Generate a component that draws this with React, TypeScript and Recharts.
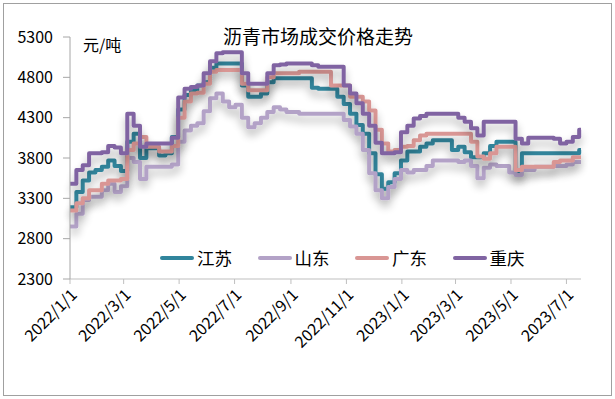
import React from "react";
import { LineChart, Line, XAxis, YAxis } from "recharts";

// weekly sample dates (price held until next date)
const dates = [
  "2022-01-01", "2022-01-08", "2022-01-15", "2022-01-22", "2022-01-29", "2022-02-05", "2022-02-12", "2022-02-19", "2022-02-26",
  "2022-03-05", "2022-03-12", "2022-03-19", "2022-03-26", "2022-04-02", "2022-04-09", "2022-04-16", "2022-04-23", "2022-04-30",
  "2022-05-07", "2022-05-14", "2022-05-21", "2022-05-28", "2022-06-04", "2022-06-11", "2022-06-18", "2022-06-25", "2022-07-02",
  "2022-07-09", "2022-07-16", "2022-07-23", "2022-07-30", "2022-08-06", "2022-08-13", "2022-08-20", "2022-08-27", "2022-09-03",
  "2022-09-10", "2022-09-17", "2022-09-24", "2022-10-01", "2022-10-08", "2022-10-15", "2022-10-22", "2022-10-29", "2022-11-05",
  "2022-11-12", "2022-11-19", "2022-11-26", "2022-12-03", "2022-12-10", "2022-12-17", "2022-12-24", "2022-12-31", "2023-01-07",
  "2023-01-14", "2023-01-21", "2023-01-28", "2023-02-04", "2023-02-11", "2023-02-18", "2023-02-25", "2023-03-04", "2023-03-11",
  "2023-03-18", "2023-03-25", "2023-04-01", "2023-04-08", "2023-04-15", "2023-04-22", "2023-04-29", "2023-05-06", "2023-05-13",
  "2023-05-20", "2023-05-27", "2023-06-03", "2023-06-10", "2023-06-17", "2023-06-24", "2023-07-01", "2023-07-08", "2023-07-15",
  "2023-07-17",
];

const jiangsu = [
  3190, 3380, 3520, 3620, 3650, 3690, 3770, 3700, 3640, 4000,
  4100, 3800, 3920, 3920, 3830, 3860, 4060, 4400, 4580, 4640,
  4700, 4740, 4920, 4970, 4970, 4970, 4970, 4700, 4560, 4560,
  4600, 4740, 4790, 4790, 4790, 4790, 4790, 4790, 4670, 4660,
  4660, 4660, 4560, 4470, 4350, 4210, 4100, 3860, 3600, 3420,
  3500, 3610, 3770, 3880, 3880, 3940, 3980, 4020, 4020, 4020,
  3900, 3940, 3870, 3810, 3810, 3860, 3950, 4000, 4000, 4000,
  3640, 3860, 3860, 3860, 3860, 3860, 3860, 3860, 3860, 3860,
  3900, 3900,
];

const shandong = [
  2950, 3110, 3280, 3320, 3320, 3400, 3480, 3380, 3450, 3800,
  3750, 3540, 3690, 3690, 3690, 3690, 3720, 4000, 4140, 4200,
  4230, 4380, 4540, 4600, 4500, 4430, 4460, 4300, 4180, 4230,
  4300, 4370, 4430, 4400, 4370, 4370, 4350, 4350, 4350, 4350,
  4350, 4350, 4350, 4270, 4190, 4100, 3900, 3610, 3400, 3300,
  3440, 3540, 3650, 3620, 3650, 3650, 3700, 3770, 3770, 3770,
  3770, 3750, 3770, 3700, 3550, 3680, 3720, 3700, 3700, 3620,
  3590, 3650, 3650, 3690, 3690, 3690, 3700, 3700, 3720, 3750,
  3750, 3750,
];

const guangdong = [
  3150, 3240, 3300, 3400, 3400, 3480, 3520, 3520, 3540, 3900,
  3980, 4060, 3940, 3940, 3880, 3880, 3950, 4300, 4500, 4600,
  4610, 4720, 4870, 4890, 4890, 4890, 4890, 4720, 4640, 4640,
  4640, 4800, 4850, 4850, 4850, 4850, 4870, 4870, 4870, 4870,
  4870, 4700, 4700, 4700, 4560, 4560, 4500, 4390, 4150, 3980,
  3880, 3900, 3940, 3950, 4020, 4080, 4100, 4100, 4100, 4100,
  4100, 4100, 4100, 4000, 3820, 3790, 3860, 3940, 3940, 3940,
  3650, 3690, 3690, 3690, 3690, 3690, 3750, 3770, 3770, 3810,
  3810, 3810,
];

const chongqing = [
  3480, 3650, 3710, 3860, 3860, 3870, 3950, 3930, 3860, 4350,
  4200, 3940, 3980, 3980, 3980, 3980, 4050, 4550, 4660, 4680,
  4700, 4850, 5000, 5100, 5110, 5110, 5110, 4850, 4720, 4720,
  4720, 4850, 4950, 4960, 4970, 4970, 4970, 4970, 4950, 4930,
  4930, 4930, 4930, 4700, 4600, 4480, 4350, 4200, 3990, 3860,
  3860, 3870, 4120, 4200, 4290, 4320, 4350, 4350, 4350, 4350,
  4350, 4300, 4250, 4170, 4080, 4250, 4250, 4250, 4250, 4250,
  4040, 3980, 4050, 4050, 4050, 4050, 4040, 3980, 4000, 4060,
  4150, 4150,
];

const seriesNames = ["江苏", "山东", "广东", "重庆"];
const seriesKeys = ["js", "sd", "gd", "cq"];
const colors = ["#31859C", "#B3A2C7", "#D99694", "#8064A2"];

const tickDates = [
  "2022-01-01", "2022-03-01", "2022-05-01", "2022-07-01", "2022-09-01",
  "2022-11-01", "2023-01-01", "2023-03-01", "2023-05-01", "2023-07-01",
];
const tickLabels = [
  "2022/1/1", "2022/3/1", "2022/5/1", "2022/7/1", "2022/9/1",
  "2022/11/1", "2023/1/1", "2023/3/1", "2023/5/1", "2023/7/1",
];
const yTicks = [2300, 2800, 3300, 3800, 4300, 4800, 5300];

const toTs = (s: string) => Date.parse(s + "T00:00:00Z");

const data = dates.map((s, i) => ({
  t: toTs(s),
  js: jiangsu[i],
  sd: shandong[i],
  gd: guangdong[i],
  cq: chongqing[i],
}));

const tickTs = tickDates.map(toTs);
const font = "'Noto Sans CJK SC', 'Noto Sans', sans-serif";

export default function App() {
  return (
    <div style={{ position: "absolute", left: 0, top: 0, width: 615, height: 399, background: "#fff", fontFamily: font }}>
      <style>{`.recharts-line .recharts-curve{filter:url(#sh);stroke-width:4px}`}</style>
      <svg width={0} height={0} style={{ position: "absolute" }}>
        <defs>
          <filter id="sh" x="-5%" y="-20%" width="110%" height="160%">
            <feGaussianBlur in="SourceAlpha" stdDeviation="4" />
            <feOffset dx="0" dy="6" result="b" />
            <feComponentTransfer>
              <feFuncA type="linear" slope="0.3" />
            </feComponentTransfer>
            <feMerge>
              <feMergeNode />
              <feMergeNode in="SourceGraphic" />
            </feMerge>
          </filter>
        </defs>
      </svg>
      <div
        style={{
          position: "absolute",
          left: 3,
          top: 3,
          width: 607,
          height: 391,
          border: "1px solid #a0a0a0",
        }}
      />
      <LineChart
        width={615}
        height={399}
        data={data}
        margin={{ top: 37, right: 34, left: 0, bottom: 10 }}
        style={{ position: "absolute", left: 0, top: 0 }}
      >
        <XAxis
          dataKey="t"
          type="number"
          domain={[tickTs[0], data[data.length - 1].t]}
          ticks={tickTs}
          interval={0}
          tickFormatter={(v: number) => tickLabels[tickTs.indexOf(v)]}
          angle={-45}
          textAnchor="end"
          height={110}
          tickSize={5}
          tickMargin={4}
          stroke="#bfbfbf"
          tick={{ fontSize: 16, fill: "#000", fontFamily: font }}
        />
        <YAxis
          domain={[2300, 5300]}
          ticks={yTicks}
          interval={0}
          width={70}
          tickSize={7}
          tickMargin={10}
          stroke="#a6a6a6"
          tick={{ fontSize: 16, fill: "#000", fontFamily: font }}
        />
        {seriesKeys.map((k, i) => (
          <Line
            key={k}
            dataKey={k}
            name={seriesNames[i]}
            type="stepAfter"
            stroke={colors[i]}
            strokeWidth={4}
            strokeLinejoin="round"
            dot={false}
            activeDot={false}
            isAnimationActive={false}
          />
        ))}
      </LineChart>
      <div style={{ position: "absolute", left: 0, width: 636, top: 24, textAlign: "center", fontSize: 19, lineHeight: "24px", color: "#000" }}>
        沥青市场成交价格走势
      </div>
      <div style={{ position: "absolute", left: 83, top: 32, fontSize: 16, lineHeight: "24px", color: "#000" }}>元/吨</div>
      <div style={{ position: "absolute", left: 160, top: 246, display: "flex" }}>
        {seriesNames.map((n, i) => (
          <div key={n} style={{ width: 97.5, display: "flex", alignItems: "center" }}>
            <span style={{ display: "inline-block", width: 34, height: 3.5, background: colors[i], borderRadius: 2, marginRight: 3 }} />
            <span style={{ fontSize: 17.5, lineHeight: "24px", color: "#000" }}>{n}</span>
          </div>
        ))}
      </div>
    </div>
  );
}
